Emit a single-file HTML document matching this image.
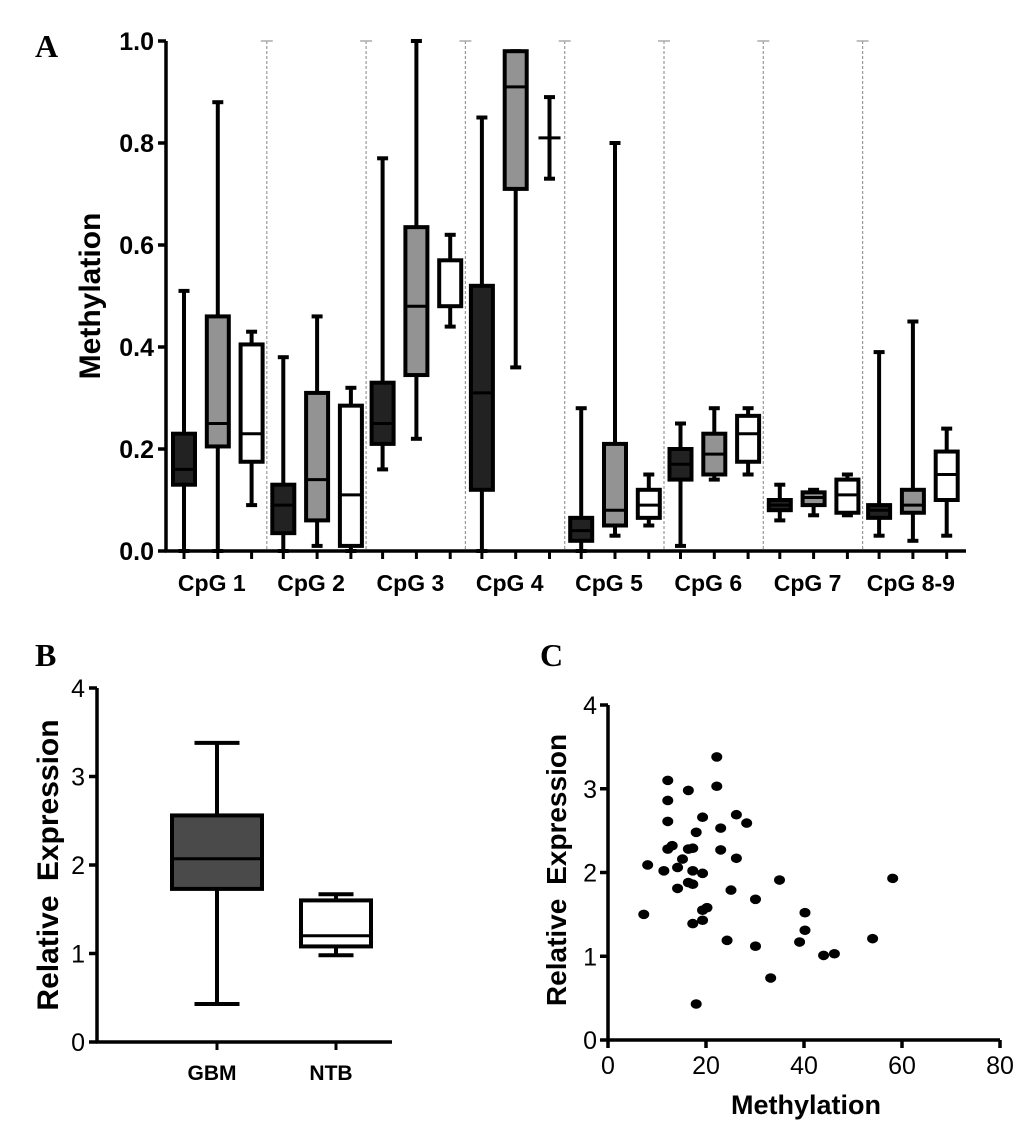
<!DOCTYPE html>
<html><head><meta charset="utf-8"><style>
html,body{margin:0;padding:0;background:#fff;}
svg{display:block;font-family:"Liberation Sans",Arial,sans-serif;}
</style></head><body>
<svg id="fig" width="1033" height="1126" viewBox="0 0 1033 1126" xmlns="http://www.w3.org/2000/svg">
<text x="35" y="57" font-family="Liberation Serif" font-weight="bold" font-size="32">A</text>
<text x="35" y="666" font-family="Liberation Serif" font-weight="bold" font-size="32">B</text>
<text x="540" y="666" font-family="Liberation Serif" font-weight="bold" font-size="32">C</text>
<g id="pa"></g>
<g id="pb"></g>
<g id="pc"></g>
</svg>
<script>
// Panel A data: [min, q1, median, q3, max] per CpG group, for dark/gray/white series
const cpgCategories = ["CpG 1","CpG 2","CpG 3","CpG 4","CpG 5","CpG 6","CpG 7","CpG 8-9"];
const darkSeries = [[0,0.13,0.16,0.23,0.51],[0,0.035,0.09,0.13,0.38],[0.16,0.21,0.25,0.33,0.77],[0,0.12,0.31,0.52,0.85],[0,0.02,0.04,0.065,0.28],[0.01,0.14,0.17,0.2,0.25],[0.06,0.08,0.09,0.1,0.13],[0.03,0.065,0.08,0.09,0.39]];
const graySeries = [[0,0.205,0.25,0.46,0.88],[0.01,0.06,0.14,0.31,0.46],[0.22,0.345,0.48,0.635,1.0],[0.36,0.71,0.91,0.98,0.98],[0.03,0.05,0.08,0.21,0.80],[0.14,0.15,0.19,0.23,0.28],[0.07,0.09,0.105,0.115,0.12],[0.02,0.075,0.09,0.12,0.45]];
const whiteSeries = [[0.09,0.175,0.23,0.405,0.43],[0,0.01,0.11,0.285,0.32],[0.44,0.48,0.48,0.57,0.62],[0.73,0.81,0.81,0.81,0.89],[0.05,0.065,0.09,0.12,0.15],[0.15,0.175,0.23,0.265,0.28],[0.07,0.075,0.11,0.14,0.15],[0.03,0.1,0.15,0.195,0.24]];
const aTicks = [0,0.2,0.4,0.6,0.8,1.0];
// Panel B data
const bCategories = ["GBM","NTB"];
const bBoxes = [[0.43,1.73,2.07,2.56,3.38],[0.98,1.08,1.2,1.6,1.67]];
const bTicks = [0,1,2,3,4];
// Panel C data
const cMethylation = [7.3,8.1,11.4,12.2,12.2,12.2,12.2,13.1,14.2,15.2,14.2,16.4,16.4,17.3,17.3,16.4,17.3,17.3,18.0,18.0,19.3,19.3,19.3,19.3,20.2,22.2,22.2,23.0,23.0,24.3,25.1,26.2,26.2,28.3,30.1,30.1,33.2,35.0,39.1,40.2,40.2,44.0,46.2,54.0,58.1];
const cExpression = [1.50,2.09,2.02,3.10,2.86,2.61,2.28,2.32,2.06,2.16,1.81,2.98,2.28,2.29,2.02,1.88,1.86,1.39,0.43,2.48,2.66,1.99,1.43,1.55,1.58,3.38,3.03,2.53,2.27,1.19,1.79,2.69,2.17,2.59,1.68,1.12,0.74,1.91,1.17,1.52,1.31,1.01,1.03,1.21,1.93];
const cXTicks = [0,20,40,60,80];
const cYTicks = [0,1,2,3,4];

const NS="http://www.w3.org/2000/svg";
function mk(parent,tag,attrs,text){const e=document.createElementNS(NS,tag);for(const k in attrs)e.setAttribute(k,attrs[k]);if(text!==undefined)e.textContent=text;parent.appendChild(e);return e;}

function drawBox(g,cx,w,v,fill,yf,name){
  const bg=mk(g,'g',{});
  
  
  const sw=4;
  mk(bg,'line',{x1:cx,x2:cx,y1:yf(v[0]),y2:yf(v[4]),stroke:'#000','stroke-width':sw});
  mk(bg,'line',{x1:cx-w/4,x2:cx+w/4,y1:yf(v[0]),y2:yf(v[0]),stroke:'#000','stroke-width':sw});
  mk(bg,'line',{x1:cx-w/4,x2:cx+w/4,y1:yf(v[4]),y2:yf(v[4]),stroke:'#000','stroke-width':sw});
  if(v[3]>v[1]) mk(bg,'rect',{x:cx-w/2,y:yf(v[3]),width:w,height:yf(v[1])-yf(v[3]),fill:fill,stroke:'#000','stroke-width':sw});
  mk(bg,'line',{x1:cx-w/2,x2:cx+w/2,y1:yf(v[2]),y2:yf(v[2]),stroke:'#000','stroke-width':3});
}

// Panel A
(function(){
  const g=document.getElementById('pa');
  const x0=166,x1=966,yT=41,yB=551;
  const yf=v=>yB-(yB-yT)*v;
  const gw=99.3,off=184,sp=33.8;
  for(let i=1;i<cpgCategories.length;i++){
    const sx=off+i*gw-16.5;
    const s=mk(g,'line',{x1:sx,x2:sx,y1:yT,y2:yB,stroke:'#999','stroke-width':1.2,'stroke-dasharray':'3,2'});
    
    
    mk(g,'line',{x1:sx-6,x2:sx+6,y1:yT,y2:yT,stroke:'#aaa','stroke-width':1.5});
    mk(g,'line',{x1:sx-6,x2:sx+6,y1:yB,y2:yB,stroke:'#aaa','stroke-width':1.5});
  }
  const ya=mk(g,'line',{x1:x0,x2:x0,y1:yT,y2:yB+1,stroke:'#000','stroke-width':3.5});
  
  
  const xa=mk(g,'line',{x1:x0-1,x2:x1,y1:yB,y2:yB,stroke:'#000','stroke-width':3.5});
  
  
  aTicks.forEach(t=>{
    mk(g,'line',{x1:x0-8,x2:x0,y1:yf(t),y2:yf(t),stroke:'#000','stroke-width':3.5});
    const l=mk(g,'text',{x:x0-12,y:yf(t)+9,'text-anchor':'end','font-size':25,'font-weight':'bold'},t.toFixed(1));
    
    
  });
  const yt=mk(g,'text',{x:0,y:0,transform:'translate(100,296) rotate(-90)','text-anchor':'middle','font-size':30,'font-weight':'bold'},'Methylation');
  
  
  const series=[[darkSeries,'#222'],[graySeries,'#939393'],[whiteSeries,'#fff']];
  cpgCategories.forEach((c,i)=>{
    series.forEach((s,k)=>{
      const cx=off+i*gw+k*sp;
      mk(g,'line',{x1:cx,x2:cx,y1:yB,y2:yB+8,stroke:'#000','stroke-width':3});
      drawBox(g,cx,22,s[0][i],s[1],yf,'box-'+c.replace(/ /g,'').toLowerCase()+'-'+['dark','gray','white'][k]);
    });
    const l=mk(g,'text',{x:off+i*gw+sp-6+(i==7?4:0),y:591,'text-anchor':'middle','font-size':23,'font-weight':'bold'},c);
    
    
  });
})();

// Panel B
(function(){
  const g=document.getElementById('pb');
  const x0=97,x1=392,yT=688,yB=1042;
  const yf=v=>yB-(yB-yT)*v/4;
  const ya=mk(g,'line',{x1:x0,x2:x0,y1:yT,y2:yB+1,stroke:'#000','stroke-width':3.5});
  
  
  const xa=mk(g,'line',{x1:x0-1,x2:x1,y1:yB,y2:yB,stroke:'#000','stroke-width':3.5});
  
  
  bTicks.forEach(t=>{
    mk(g,'line',{x1:x0-8,x2:x0,y1:yf(t),y2:yf(t),stroke:'#000','stroke-width':3.5});
    const l=mk(g,'text',{x:x0-12,y:yf(t)+9,'text-anchor':'end','font-size':25},String(t));
    
    
  });
  const yt=mk(g,'text',{x:0,y:0,transform:'translate(58,865) rotate(-90)','text-anchor':'middle','font-size':30,'font-weight':'bold','word-spacing':6},'Relative Expression');
  
  
  const cxs=[217,336],fills=['#4a4a4a','#fff'],widths=[90,70];
  bCategories.forEach((c,i)=>{
    mk(g,'line',{x1:cxs[i],x2:cxs[i],y1:yB,y2:yB+8,stroke:'#000','stroke-width':3});
    drawBox(g,cxs[i],widths[i],bBoxes[i],fills[i],yf,'box-'+c.toLowerCase());
    const l=mk(g,'text',{x:cxs[i]-5,y:1080,'text-anchor':'middle','font-size':21,'font-weight':'bold'},c);
    
    
  });
})();

// Panel C
(function(){
  const g=document.getElementById('pc');
  const x0=608,x1=1000,yT=705,yB=1040;
  const xf=v=>x0+(x1-x0)*v/80, yf=v=>yB-(yB-yT)*v/4;
  const ya=mk(g,'line',{x1:x0,x2:x0,y1:yT,y2:yB+1,stroke:'#000','stroke-width':3.5});
  
  
  const xa=mk(g,'line',{x1:x0-1,x2:x1,y1:yB,y2:yB,stroke:'#000','stroke-width':3.5});
  
  
  cYTicks.forEach(t=>{
    mk(g,'line',{x1:x0-8,x2:x0,y1:yf(t),y2:yf(t),stroke:'#000','stroke-width':3.5});
    const l=mk(g,'text',{x:x0-11,y:yf(t)+9,'text-anchor':'end','font-size':25},String(t));
    
    
  });
  cXTicks.forEach(t=>{
    mk(g,'line',{x1:xf(t),x2:xf(t),y1:yB,y2:yB+8,stroke:'#000','stroke-width':3.5});
    const l=mk(g,'text',{x:xf(t),y:1074,'text-anchor':'middle','font-size':25},String(t));
    
    
  });
  const yt=mk(g,'text',{x:0,y:0,transform:'translate(566,870) rotate(-90)','text-anchor':'middle','font-size':28,'font-weight':'bold','word-spacing':6},'Relative Expression');
  
  
  const xt=mk(g,'text',{x:806,y:1114,'text-anchor':'middle','font-size':27,'font-weight':'bold'},'Methylation');
  
  
  cMethylation.forEach((m,i)=>{
    const p=mk(g,'ellipse',{cx:xf(m),cy:yf(cExpression[i]),rx:5.5,ry:4.8,fill:'#000'});
    
    
  });
})();
</script>
</body></html>
